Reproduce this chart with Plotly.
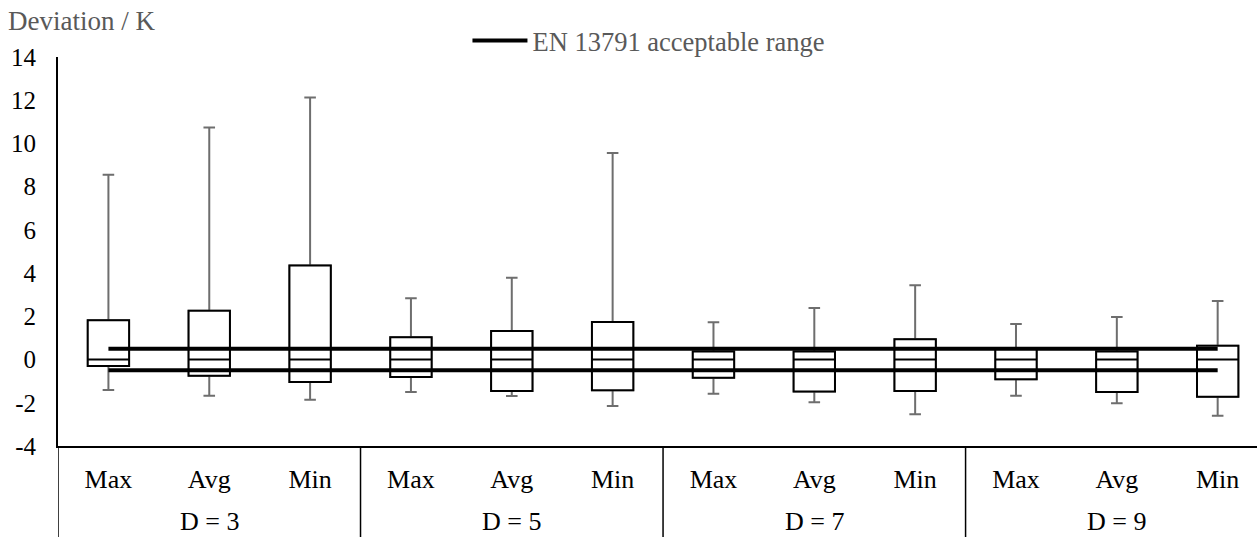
import plotly.graph_objects as go

# ---- data ----
categories = ["Max", "Avg", "Min", "Max", "Avg", "Min", "Max", "Avg", "Min", "Max", "Avg", "Min"]
groups = ["D = 3", "D = 5", "D = 7", "D = 9"]
q1 = [-0.30, -0.75, -1.04, -0.81, -1.45, -1.42, -0.84, -1.48, -1.45, -0.91, -1.50, -1.72]
median = [0.0, 0.0, 0.0, 0.0, 0.0, 0.0, 0.0, 0.0, 0.0, 0.0, 0.0, 0.0]
q3 = [1.82, 2.26, 4.35, 1.03, 1.32, 1.74, 0.37, 0.37, 0.94, 0.54, 0.37, 0.64]
lower = [-1.41, -1.67, -1.86, -1.50, -1.69, -2.15, -1.58, -1.98, -2.53, -1.67, -2.02, -2.60]
upper = [8.55, 10.74, 12.13, 2.84, 3.79, 9.56, 1.73, 2.39, 3.44, 1.65, 1.97, 2.71]
en_upper = 0.5
en_lower = -0.5
y_ticks = [-4, -2, 0, 2, 4, 6, 8, 10, 12, 14]
y_tick_text = ["-4", "-2", "0", "2", "4", "6", "8", "10", "12", "14"]

pos = list(range(len(categories)))
FONT = "Times New Roman, Liberation Serif, serif"
GREY_TXT = "#595959"

fig = go.Figure()

# whiskers (grey)
fig.add_trace(go.Box(
    x=pos, q1=q1, median=median, q3=q3, lowerfence=lower, upperfence=upper,
    width=0.41, whiskerwidth=0.28, fillcolor="rgba(0,0,0,0)",
    line=dict(color="#6e6e6e", width=2), showlegend=False, hoverinfo="skip",
    boxpoints=False,
))
# boxes (black)
fig.add_trace(go.Box(
    x=pos, q1=q1, median=median, q3=q3, lowerfence=q1, upperfence=q3,
    width=0.41, whiskerwidth=0, fillcolor="white",
    line=dict(color="black", width=2), showlegend=False, hoverinfo="skip",
    boxpoints=False,
))
# acceptable range
fig.add_trace(go.Scatter(
    x=[pos[0], pos[-1], None, pos[0], pos[-1]],
    y=[en_upper, en_upper, None, en_lower, en_lower],
    mode="lines", line=dict(color="black", width=4),
    name="EN 13791 acceptable range", hoverinfo="skip",
))

shapes = []
for i in range(len(groups) + 1):
    xb = i * 3 - 0.5
    shapes.append(dict(type="line", xref="x", yref="paper", x0=xb, x1=xb,
                       y0=0, y1=-0.3, line=dict(color="black", width=1.5)))

annotations = []
for i, g in enumerate(groups):
    annotations.append(dict(text=g, xref="x", yref="paper", x=i * 3 + 1, y=0,
                            yshift=-75, yanchor="middle", showarrow=False,
                            font=dict(family=FONT, size=26, color="black")))
annotations.append(dict(text="Deviation / K", xref="paper", yref="paper", x=0, y=1,
                        xanchor="left", xshift=-52, yanchor="middle", yshift=36,
                        showarrow=False, font=dict(family=FONT, size=27, color=GREY_TXT)))

fig.update_layout(
    width=1257, height=537,
    margin=dict(l=58, r=0, t=57, b=91),
    paper_bgcolor="white", plot_bgcolor="white",
    boxmode="overlay",
    font=dict(family=FONT, size=25, color="black"),
    showlegend=True,
    legend=dict(orientation="h", x=0.3415, y=0.98, xanchor="left", yanchor="bottom",
                yref="paper", itemwidth=55,
                font=dict(family=FONT, size=26.5, color=GREY_TXT),
                bgcolor="rgba(0,0,0,0)"),
    shapes=shapes, annotations=annotations,
)
fig.update_xaxes(
    range=[-0.5, 11.39], tickmode="array", tickvals=pos, ticktext=categories,
    tickfont=dict(family=FONT, size=26, color="black"),
    showline=True, linecolor="black", linewidth=2, ticks="", showgrid=False,
    zeroline=False, ticklabelstandoff=9, fixedrange=True,
)
fig.update_yaxes(
    range=[-4, 14], tickmode="array", tickvals=y_ticks, ticktext=y_tick_text,
    showline=True, linecolor="black", linewidth=2, ticks="", showgrid=False,
    zeroline=False, ticklabelstandoff=15, fixedrange=True,
)

fig.write_html("out.html")
